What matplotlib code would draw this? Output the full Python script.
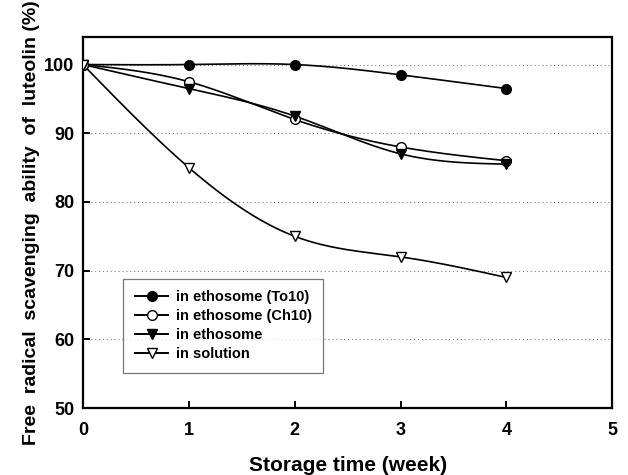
import numpy as np
import matplotlib
matplotlib.use("Agg")
import matplotlib.pyplot as plt

plt.rcParams['font.family'] = ['Liberation Sans', 'DejaVu Sans']
plt.rcParams['font.weight'] = 'bold'

weeks = [0, 1, 2, 3, 4]
to10 = [100, 100, 100, 98.5, 96.5]
ch10 = [100, 97.5, 92, 88, 86]
etho = [100, 96.5, 92.5, 87, 85.5]
solu = [100, 85, 75, 72, 69]

labels = ["in ethosome (To10)", "in ethosome (Ch10)", "in ethosome", "in solution"]


def smooth(x, y, n=200):
    # natural cubic spline, only used for the connecting curve
    x = np.asarray(x, float)
    y = np.asarray(y, float)
    k = len(x)
    h = np.diff(x)
    A = np.zeros((k, k))
    b = np.zeros(k)
    A[0, 0] = A[-1, -1] = 1
    for i in range(1, k - 1):
        A[i, i - 1] = h[i - 1]
        A[i, i] = 2 * (h[i - 1] + h[i])
        A[i, i + 1] = h[i]
        b[i] = 6 * ((y[i + 1] - y[i]) / h[i] - (y[i] - y[i - 1]) / h[i - 1])
    M = np.linalg.solve(A, b)
    xs = np.linspace(x[0], x[-1], n)
    ys = np.empty_like(xs)
    for j, t in enumerate(xs):
        i = min(np.searchsorted(x, t, side='right') - 1, k - 2)
        a, c = x[i], x[i + 1]
        ys[j] = (M[i] * (c - t) ** 3 / (6 * h[i]) + M[i + 1] * (t - a) ** 3 / (6 * h[i])
                 + (y[i] / h[i] - M[i] * h[i] / 6) * (c - t)
                 + (y[i + 1] / h[i] - M[i + 1] * h[i] / 6) * (t - a))
    return xs, ys


fig = plt.figure(figsize=(6.28, 4.75), dpi=100)
ax = fig.add_axes([0.132, 0.141, 0.843, 0.781])

styles = [
    dict(marker='o', mfc='black'),
    dict(marker='o', mfc='white'),
    dict(marker='v', mfc='black'),
    dict(marker='v', mfc='white'),
]
for data, st, lab in zip([to10, ch10, etho, solu], styles, labels):
    xs, ys = smooth(weeks, data)
    ax.plot(xs, ys, color='black', lw=1.2, zorder=2)
    ax.plot(weeks, data, lw=0, color='black', marker=st['marker'],
            mfc=st['mfc'], mec='black', ms=7, mew=1, zorder=3)
    ax.plot([], [], color='black', lw=1.4, marker=st['marker'], mfc=st['mfc'],
            mec='black', ms=7, mew=1, label=lab)

ax.set_xlim(0, 5)
ax.set_ylim(50, 104)
ax.set_xticks([0, 1, 2, 3, 4, 5])
ax.set_yticks([50, 60, 70, 80, 90, 100])
for yv in [60, 70, 80, 90, 100]:
    ax.axhline(yv, color='gray', ls=(0, (1, 2.5)), lw=0.8, zorder=1)

for s in ax.spines.values():
    s.set_linewidth(1.6)
ax.tick_params(direction='in', length=5, width=1.4, labelsize=13)
ax.tick_params(axis='y', pad=6)
ax.tick_params(axis='x', pad=10)

ax.set_xlabel("Storage time (week)", fontsize=15, fontweight='bold', labelpad=12)
ax.set_ylabel("Free  radical  scavenging  ability  of  luteolin (%)", fontsize=14,
              fontweight='bold', labelpad=3)

leg = ax.legend(loc='lower left', bbox_to_anchor=(0.076, 0.094), borderaxespad=0,
                fontsize=10.5, frameon=True, fancybox=False, edgecolor='#555555',
                borderpad=0.8, handlelength=2.3, handletextpad=0.5, labelspacing=0.35)
leg.get_frame().set_linewidth(0.9)

fig.savefig("out.png", dpi=100)
